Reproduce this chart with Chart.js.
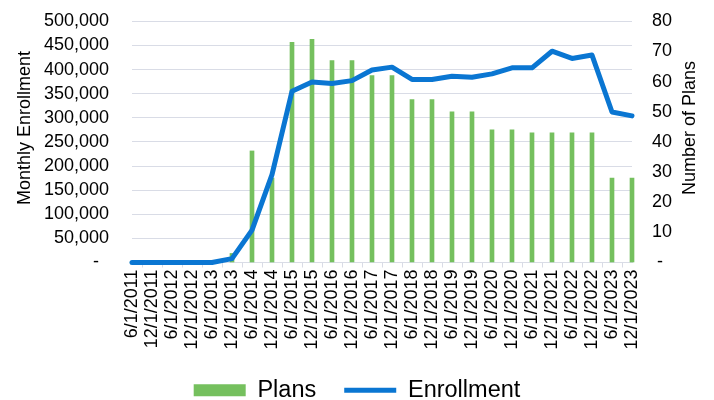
<!DOCTYPE html>
<html>
<head>
<meta charset="utf-8">
<script src="https://cdn.jsdelivr.net/npm/chart.js@4"></script>
<style>
html,body{margin:0;padding:0;background:#fff;}
#wrap{width:714px;height:400px;}
</style>
</head>
<body>
<div id="wrap"><canvas id="chart" width="714" height="400"></canvas></div>
<script>
const dates=[
'6/1/2011','12/1/2011','6/1/2012','12/1/2012','6/1/2013','12/1/2013',
'6/1/2014','12/1/2014','6/1/2015','12/1/2015','6/1/2016','12/1/2016',
'6/1/2017','12/1/2017','6/1/2018','12/1/2018','6/1/2019','12/1/2019',
'6/1/2020','12/1/2020','6/1/2021','12/1/2021','6/1/2022','12/1/2022',
'6/1/2023','12/1/2023'];

const plans=[0,0,0,0,0,3,37,28,73,74,67,67,62,62,54,54,50,50,44,44,43,43,43,43,28,28];

const enrollment=[0,0,0,0,0,8000,67000,182000,355000,374000,371000,377000,399000,405000,
379500,379500,386000,384000,391000,403500,403500,438000,423000,430000,312000,304000];

const leftTitle='Monthly Enrollment';
const rightTitle='Number of Plans';

const FONT='"Liberation Sans", Arial, sans-serif';
const GRID='#D9DCE6';

// both axis titles read bottom-to-top, so draw them by hand
const axisTitles={
id:'axisTitles',
afterDraw(chart){
const c=chart.ctx;
c.save();
c.font='18px '+FONT;
c.fillStyle='#000';
c.textAlign='center';
c.textBaseline='middle';
[[25,leftTitle],[690,rightTitle]].forEach(([x,t])=>{
c.save();
c.translate(x,128);
c.rotate(-Math.PI/2);
c.fillText(t,0,0);
c.restore();
});
c.restore();
}
};

const ctx=document.getElementById('chart');
new Chart(ctx,{
type:'bar',
data:{
labels:dates,
datasets:[
{
type:'bar',
label:'Plans',
data:plans,
yAxisID:'yPlans',
backgroundColor:'#75C05E',
borderWidth:0,
barThickness:4,
pointStyle:'rect',
clip:false,
order:1
},
{
type:'line',
label:'Enrollment',
data:enrollment,
yAxisID:'yEnroll',
borderColor:'#0A76D2',
backgroundColor:'#0A76D2',
borderWidth:5,
pointRadius:0,
tension:0,
borderJoinStyle:'round',
borderCapStyle:'round',
pointStyle:'line',
clip:false,
order:0
}]
},
plugins:[axisTitles],
options:{
responsive:false,
animation:false,
layout:{padding:{top:0,bottom:-12,left:0,right:0}},
plugins:{
tooltip:{enabled:false},
legend:{
position:'bottom',
labels:{
usePointStyle:true,
pointStyleWidth:52,
boxHeight:12,
padding:28,
color:'#000',
font:{family:FONT,size:23.5},
sort:(a,b)=>a.datasetIndex-b.datasetIndex
}
}
},
scales:{
x:{
offset:false,
grid:{display:true,drawOnChartArea:false,drawTicks:true,tickLength:5,color:GRID},
border:{display:true,color:GRID},
ticks:{
autoSkip:false,
minRotation:90,
maxRotation:90,
padding:2,
color:'#000',
font:{family:FONT,size:18}
},
afterFit:s=>{s.height=88;}
},
yEnroll:{
position:'left',
min:0,
max:500000,
grid:{color:GRID,drawTicks:true,tickLength:12.5,tickColor:'rgba(0,0,0,0)'},
border:{display:false},
ticks:{
autoSkip:false,
stepSize:50000,
padding:10.5,
color:'#000',
font:{family:FONT,size:18},
callback:v=>v===0?'-  ':v.toLocaleString('en-US')
},
afterFit:s=>{s.width=132;}
},
yPlans:{
position:'right',
min:0,
max:80,
grid:{display:true,drawOnChartArea:false,drawTicks:true,tickLength:9.5,tickColor:'rgba(0,0,0,0)'},
border:{display:false},
ticks:{
autoSkip:false,
stepSize:10,
padding:10.5,
color:'#000',
font:{family:FONT,size:18},
callback:v=>v===0?' -':v
},
afterFit:s=>{s.width=82;}
}
}
}
});
</script>
</body>
</html>
